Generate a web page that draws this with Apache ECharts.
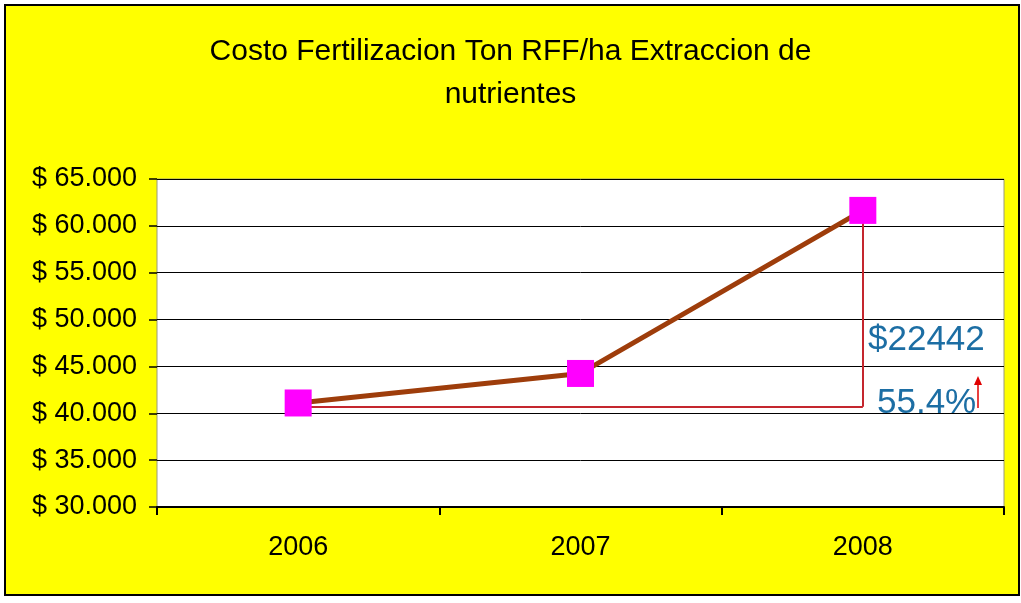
<!DOCTYPE html>
<html>
<head>
<meta charset="utf-8">
<script src="https://cdn.jsdelivr.net/npm/echarts@6/dist/echarts.min.js"></script>
<style>
  html, body { margin: 0; padding: 0; background: #fff; }
  .frame {
    position: absolute; left: 4px; top: 4px; width: 1012px; height: 588px;
    background: #ffff00; border: 2px solid #000;
  }
  #chart { position: absolute; left: 0; top: 0; width: 1021px; height: 603px; }
</style>
</head>
<body>
<div class="frame"></div>
<div id="chart"></div>
<script>
// datos
const years = ["2006", "2007", "2008"];
const costos = [41100, 44250, 61650];
const yMin = 30000, yMax = 65000, yStep = 5000;
// anotacion: base y tope de la diferencia
const baseLine = 40700;
const diffLabel = "$22442";
const pctLabel = "55.4%";

const font = "'Liberation Sans', Arial, sans-serif";

function money(v) {
  return "$ " + String(v).replace(/\B(?=(\d{3})+(?!\d))/g, ".");
}

let myChart = echarts.init(document.getElementById("chart"));
myChart.setOption({
  backgroundColor: "transparent",
  animation: false,
  title: {
    text: "Costo Fertilizacion Ton RFF/ha Extraccion de\nnutrientes",
    left: "center",
    top: 25,
    textStyle: { fontFamily: font, fontSize: 30, fontWeight: "normal", color: "#000", lineHeight: 43 }
  },
  grid: {
    left: 157, right: 17, top: 179, bottom: 96,
    show: true, backgroundColor: "#fff", borderColor: "#9a9a7a", borderWidth: 1
  },
  xAxis: {
    type: "category",
    data: years,
    boundaryGap: true,
    axisLine: { lineStyle: { color: "#000", width: 2 } },
    axisTick: { show: true, length: 8, lineStyle: { color: "#000", width: 2 } },
    axisLabel: { fontFamily: font, fontSize: 27, color: "#000", margin: 27 }
  },
  yAxis: {
    type: "value",
    min: yMin, max: yMax, interval: yStep,
    axisLine: { show: false },
    axisTick: { show: true, length: 8, lineStyle: { color: "#000", width: 1.5 } },
    axisLabel: { fontFamily: font, fontSize: 27, color: "#000", margin: 20, formatter: money },
    splitLine: { lineStyle: { color: "#000", width: 1 } }
  },
  series: [
    {
      name: "Costo",
      type: "line",
      data: costos,
      symbol: "rect",
      symbolSize: 27,
      itemStyle: { color: "#ff00ff" },
      lineStyle: { color: "#9e3d0b", width: 5 },
      z: 3,
      markLine: {
        z: 1,
        silent: true,
        symbol: "none",
        label: { show: false },
        lineStyle: { color: "#c4262e", width: 2, type: "solid" },
        data: [
          [{ coord: [years[0], baseLine] }, { coord: [years[2], baseLine] }],
          [{ coord: [years[2], baseLine] }, { coord: [years[2], costos[2]] }]
        ]
      }
    }
  ],
  graphic: [
    {
      type: "text", left: 868, top: 323,
      style: { text: diffLabel, fontFamily: font, fontSize: 35, fill: "#1c6ea4" }
    },
    {
      type: "text", left: 877, top: 386,
      style: { text: pctLabel, fontFamily: font, fontSize: 35, fill: "#1c6ea4" }
    },
    {
      type: "line", shape: { x1: 978, y1: 408, x2: 978, y2: 382 },
      style: { stroke: "#e00000", lineWidth: 1.5 }
    },
    {
      type: "polygon", shape: { points: [[974, 385], [982, 385], [978, 376]] },
      style: { fill: "#e00000" }
    }
  ]
});
</script>
</body>
</html>
